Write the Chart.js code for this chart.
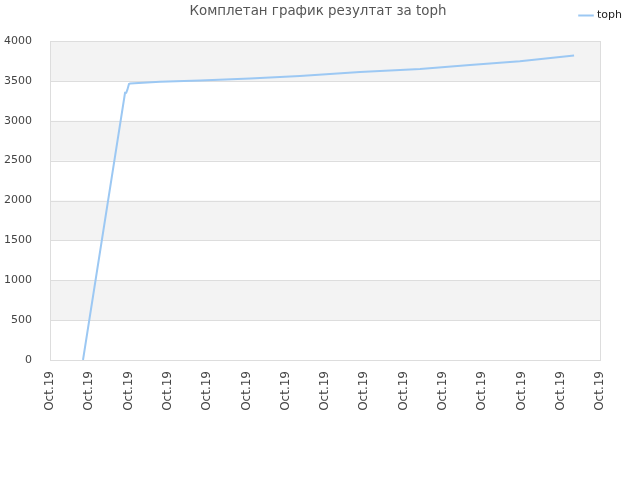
<!DOCTYPE html>
<html>
<head>
<meta charset="utf-8">
<script src="https://cdn.jsdelivr.net/npm/chart.js@4/dist/chart.umd.min.js"></script>
<style>
  html, body { margin: 0; padding: 0; background: #fff; }
  #wrap { position: relative; width: 640px; height: 480px; }
  #title { position: absolute; left: 0; top: 3px; width: 636px; text-align: center;
           font: 13.4px "DejaVu Sans", sans-serif; color: #555; }
</style>
</head>
<body>
<div id="wrap">
  <div id="title">Комплетан график резултат за toph</div>
  <canvas id="chart" width="640" height="480"></canvas>
</div>
<script>
const seriesName = 'toph';
// x position in tick units (0..14)
const xValues = [0.84, 1.91, 1.94, 1.97, 2.01, 2.04, 2.80, 3.82, 5.09, 6.36, 7.89, 9.42, 10.69, 11.96, 13.34];
const yValues = [0, 3350, 3350, 3390, 3460, 3466, 3490, 3505, 3530, 3560, 3612, 3650, 3700, 3745, 3818];
const tickLabels = ['Oct.19', 'Oct.19', 'Oct.19', 'Oct.19', 'Oct.19', 'Oct.19', 'Oct.19', 'Oct.19',
                    'Oct.19', 'Oct.19', 'Oct.19', 'Oct.19', 'Oct.19', 'Oct.19', 'Oct.19'];
const yTicks = [0, 500, 1000, 1500, 2000, 2500, 3000, 3500, 4000];

const points = xValues.map((x, i) => ({ x: x, y: yValues[i] }));

// alternating grey bands and plot frame
const bandsPlugin = {
    id: 'bands',
    beforeDatasetsDraw(chart) {
        const { ctx, chartArea, scales } = chart;
        ctx.save();
        ctx.fillStyle = '#f3f3f3';
        for (let i = 0; i < yTicks.length - 1; i++) {
            if (i % 2 === 1) {
                const top = scales.y.getPixelForValue(yTicks[i + 1]);
                const bottom = scales.y.getPixelForValue(yTicks[i]);
                ctx.fillRect(chartArea.left, top, chartArea.right - chartArea.left, bottom - top);
            }
        }
        ctx.strokeStyle = '#dddddd';
        ctx.lineWidth = 1;
        yTicks.forEach(v => {
            const y = Math.round(scales.y.getPixelForValue(v)) + 0.5;
            ctx.beginPath();
            ctx.moveTo(chartArea.left, y);
            ctx.lineTo(chartArea.right, y);
            ctx.stroke();
        });
        ctx.strokeRect(Math.round(chartArea.left) + 0.5, Math.round(chartArea.top) + 0.5,
            Math.round(chartArea.right - chartArea.left), Math.round(chartArea.bottom - chartArea.top));
        ctx.restore();
    }
};

Chart.defaults.font.family = '"DejaVu Sans", sans-serif';
Chart.defaults.color = '#444';

new Chart(document.getElementById('chart'), {
    type: 'line',
    data: {
        datasets: [{
            label: seriesName,
            data: points,
            borderColor: '#9cc8f3',
            backgroundColor: '#9cc8f3',
            borderWidth: 2,
            pointRadius: 0,
            tension: 0,
            fill: false
        }]
    },
    options: {
        responsive: false,
        animation: false,
        layout: { padding: { top: 0, left: 0, bottom: 0, right: 8 } },
        plugins: {
            legend: {
                position: 'top',
                align: 'end',
                labels: {
                    usePointStyle: true,
                    pointStyle: 'line',
                    boxWidth: 12,
                    font: { size: 11 },
                    color: '#222',
                    padding: 10
                }
            },
            title: { display: false },
            tooltip: { enabled: false }
        },
        scales: {
            x: {
                type: 'linear',
                min: 0,
                max: 14,
                grid: { display: false },
                border: { display: false },
                afterBuildTicks(scale) {
                    scale.ticks = tickLabels.map((t, i) => ({ value: i }));
                },
                ticks: {
                    autoSkip: false,
                    maxRotation: 90,
                    minRotation: 90,
                    font: { size: 12 },
                    callback: (v, i) => tickLabels[i]
                },
                afterFit(scale) { scale.height = 120; }
            },
            xTop: {
                type: 'linear',
                position: 'top',
                display: true,
                grid: { display: false },
                border: { display: false },
                ticks: { display: false },
                afterFit(scale) { scale.height = 10; }
            },
            y: {
                min: 0,
                max: 4000,
                grid: { display: false },
                border: { display: false },
                afterBuildTicks(scale) {
                    scale.ticks = yTicks.map(v => ({ value: v }));
                },
                ticks: { font: { size: 11 }, padding: 10, callback: v => String(v) },
                afterFit(scale) { scale.width = 50; }
            },
            yRight: {
                type: 'linear',
                position: 'right',
                display: true,
                grid: { display: false },
                border: { display: false },
                ticks: { display: false },
                afterFit(scale) { scale.width = 32; }
            }
        }
    },
    plugins: [bandsPlugin]
});
</script>
</body>
</html>
